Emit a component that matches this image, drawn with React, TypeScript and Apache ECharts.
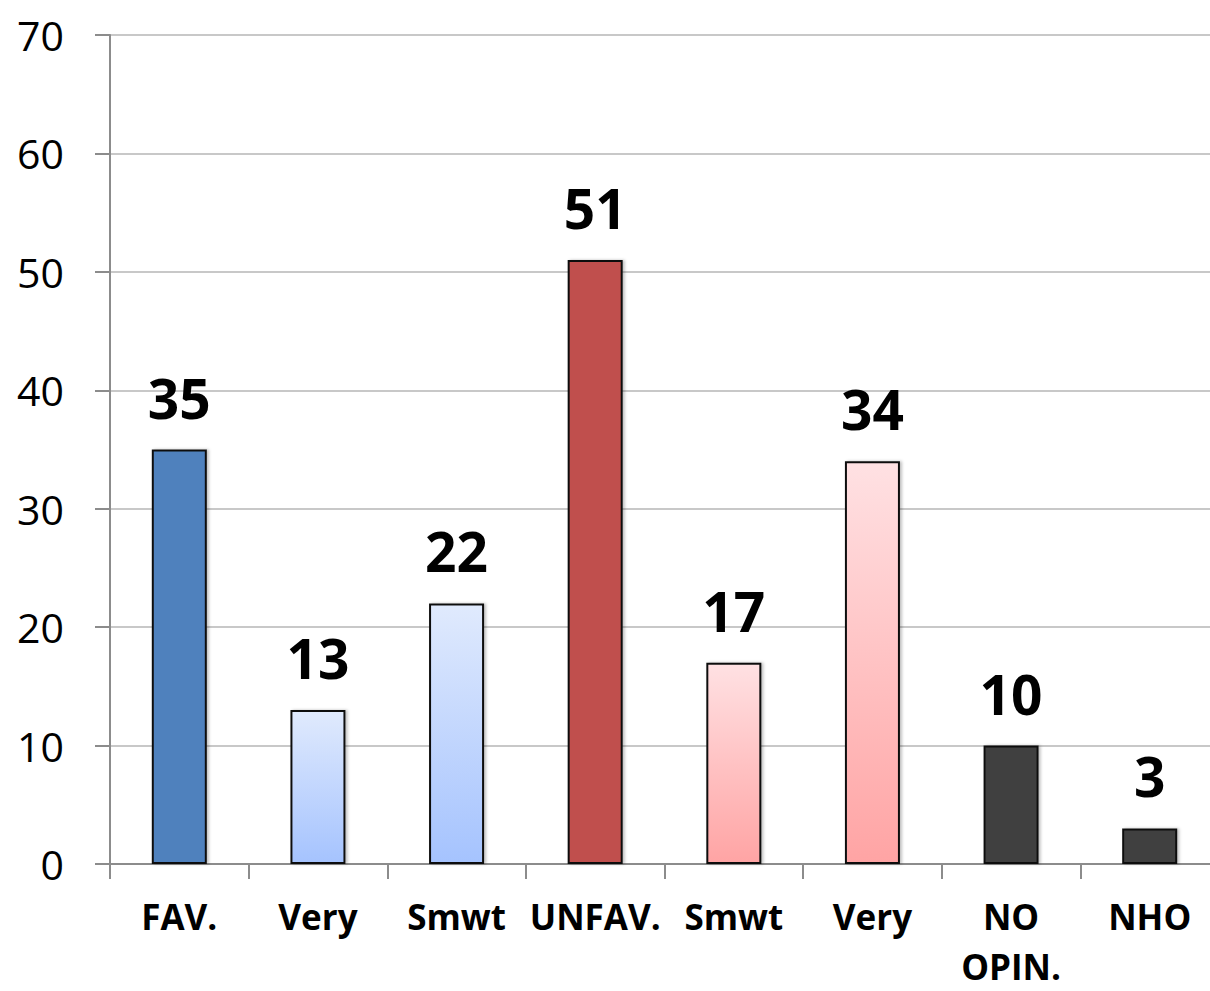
import React, { useEffect, useRef } from "react";
import * as echarts from "echarts";

const categories = ["FAV.", "Very", "Smwt", "UNFAV.", "Smwt", "Very", "NO\nOPIN.", "NHO"];
const values = [35, 13, 22, 51, 17, 34, 10, 3];
const yTicks = { min: 0, max: 70, interval: 10 };

const FONT = "'Open Sans', 'Liberation Sans', sans-serif";

function grad(top: string, bottom: string) {
  return new echarts.graphic.LinearGradient(0, 0, 0, 1, [
    { offset: 0, color: top },
    { offset: 1, color: bottom },
  ]);
}

export default function App() {
  const ref = useRef<HTMLDivElement>(null);
  useEffect(() => {
    if (!ref.current) return;
    const chart = echarts.init(ref.current, undefined, { renderer: "svg" });
    const fills = [
      "#4F81BD",
      grad("#E0EAFD", "#A5C3FE"),
      grad("#E0EAFD", "#A5C3FE"),
      "#C0504D",
      grad("#FFE1E3", "#FFA4A4"),
      grad("#FFE1E3", "#FFA4A4"),
      "#404040",
      "#404040",
    ];
    chart.setOption({
      animation: false,
      backgroundColor: "#ffffff",
      grid: { left: 110, right: 0, top: 35, bottom: 124, containLabel: false },
      xAxis: {
        type: "category",
        data: categories,
        boundaryGap: true,
        axisLine: { show: true, lineStyle: { color: "#8c8c8c", width: 2 } },
        axisTick: { show: true, length: 15, alignWithLabel: false, lineStyle: { color: "#8c8c8c", width: 2 } },
        axisLabel: {
          interval: 0,
          margin: 27,
          color: "#000",
          fontFamily: FONT,
          fontWeight: "bold",
          fontSize: 35,
          lineHeight: 50,
        },
      },
      yAxis: {
        type: "value",
        min: yTicks.min,
        max: yTicks.max,
        interval: yTicks.interval,
        axisLine: { show: true, lineStyle: { color: "#8c8c8c", width: 2 } },
        axisTick: { show: true, length: 15, inside: false, lineStyle: { color: "#8c8c8c", width: 2 } },
        splitLine: { show: true, lineStyle: { color: "#c8c8c8", width: 2 } },
        axisLabel: {
          margin: 46,
          color: "#000",
          fontFamily: FONT,
          fontSize: 41,
        },
      },
      series: [
        {
          type: "bar",
          barWidth: 55,
          data: values.map((v, i) => ({
            value: v,
            itemStyle: {
              color: fills[i],
              borderColor: "#111",
              borderWidth: 2,
              shadowColor: "rgba(0,0,0,0.25)",
              shadowBlur: 3,
              shadowOffsetX: 2,
              shadowOffsetY: 0,
            },
          })),
          label: {
            show: true,
            position: "top",
            distance: 25,
            color: "#000",
            fontFamily: FONT,
            fontWeight: "bold",
            fontSize: 55,
          },
        },
      ],
    });
    return () => chart.dispose();
  }, []);
  return (
    <div style={{ position: "absolute", left: 0, top: 0, width: 1210, height: 991, overflow: "hidden", background: "#fff" }}>
      <div ref={ref} style={{ width: 1219, height: 991 }} />
    </div>
  );
}
